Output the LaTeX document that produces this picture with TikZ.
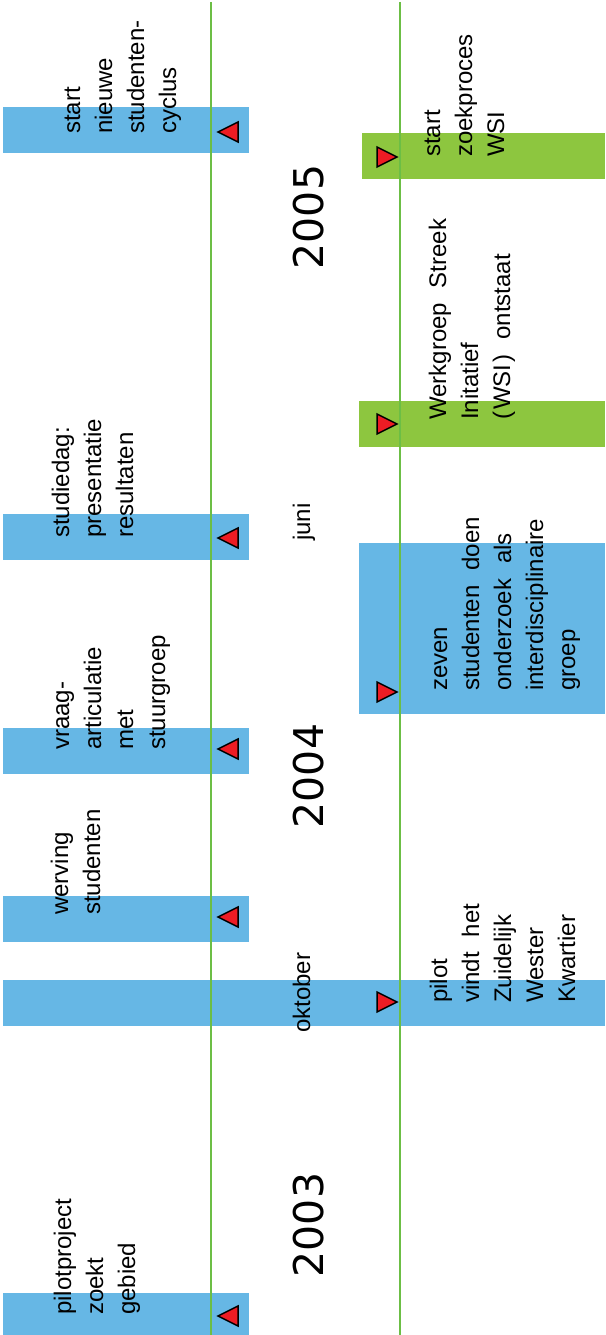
\documentclass[tikz,border=0pt]{standalone}
\usepackage{fontspec}
\setmainfont{Liberation Sans}
\newfontfamily\yearfont{DejaVu Sans}
\definecolor{barblue}{HTML}{66B7E5}
\definecolor{bargreen}{HTML}{8DC63F}
\definecolor{linegreen}{HTML}{6CBE45}
\definecolor{trired}{HTML}{ED1C24}
\newcommand\txtfont{\fontsize{24}{32}\selectfont\spaceskip=0.62em\relax}
\newcommand\txtblock[4]{%
  \foreach \t [count=\i from 0] in {#4} {\node[txt] (#1\i) at ({#2+32*\i},#3) {\t};}}
\begin{document}
\begin{tikzpicture}[x=1pt,y=-1pt,
  bluebar/.style={fill=barblue,draw=none},
  greenbar/.style={fill=bargreen,draw=none},
  axis/.style={draw=linegreen,line width=2.6pt},
  tri/.style={fill=trired,draw=black,line width=1.5pt,line join=miter},
  txt/.style={font=\txtfont,rotate=90,anchor=base west,inner sep=0pt},
  year/.style={font=\yearfont\fontsize{41}{41}\selectfont,rotate=90,anchor=center,inner sep=0pt},
  ltri/.pic={\draw[tri] (-10,0) -- (10,-10) -- (10,10) -- cycle;},
  rtri/.pic={\draw[tri] (10,0) -- (-10,-10) -- (-10,10) -- cycle;}]
\useasboundingbox (0,0) rectangle (605,1335);
% bars
\fill[bluebar] (3,107) rectangle (249,153);
\fill[bluebar] (3,514) rectangle (249,560);
\fill[bluebar] (3,728) rectangle (249,774);
\fill[bluebar] (3,896) rectangle (249,942);
\fill[bluebar] (3,1293) rectangle (249,1335);
\fill[bluebar] (3,980) rectangle (605,1026);
\fill[greenbar] (362,133) rectangle (605,179);
\fill[greenbar] (359,401) rectangle (605,447);
\fill[bluebar] (359,543) rectangle (605,714);
% axes
\coordinate (a1t) at (211,2); \coordinate (a1b) at (211,1335);
\coordinate (a2t) at (400,2); \coordinate (a2b) at (400,1335);
\draw[axis] (a1t) -- (a1b);
\draw[axis] (a2t) -- (a2b);
% triangles
\foreach \y in {132,538,749,917,1316} \pic at (228,\y) {ltri};
\foreach \y in {157,424,692,1002} \pic at (387,\y) {rtri};
% years and months
\node[year] (y2005) at (309,217) {2005};
\node[year] (y2004) at (309,776) {2004};
\node[year] (y2003) at (309,1225) {2003};
\node[txt] (okt) at (310,1033) {oktober};
\node[txt] (jun) at (310,541) {juni};
% left texts
\txtblock{sn}{80}{134}{start,nieuwe,studenten-,cyclus}
\txtblock{sd}{69}{538}{studiedag:,presentatie,resultaten}
\txtblock{va}{69}{750}{vraag-,articulatie,met,stuurgroep}
\txtblock{ws}{68}{915}{werving,studenten}
\txtblock{pp}{71}{1315}{pilotproject,zoekt,gebied}
% right texts
\txtblock{sz}{440}{157}{start,zoekproces,WSI}
\txtblock{wg}{446}{420}{Werkgroep Streek,Initatief,{(\kern2pt WSI\kern2pt) ontstaat}}
\txtblock{zs}{447}{691}{zeven,studenten doen,onderzoek als,interdisciplinaire,groep}
\txtblock{pv}{447}{1003}{pilot,vindt het,Zuidelijk,Wester,Kwartier}
\end{tikzpicture}
\end{document}
